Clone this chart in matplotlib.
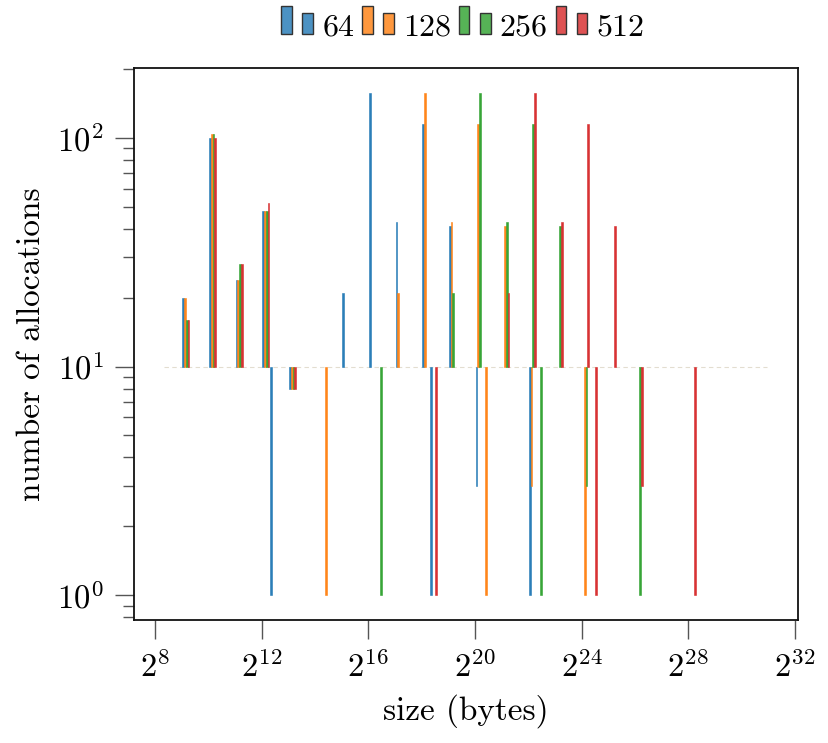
import matplotlib
matplotlib.use("Agg")
import matplotlib.pyplot as plt
from matplotlib.patches import Rectangle
from matplotlib.legend_handler import HandlerBase
from matplotlib.ticker import NullLocator

plt.rcParams["font.family"] = ["cmr10", "DejaVu Serif"]
plt.rcParams["mathtext.fontset"] = "cm"
plt.rcParams["axes.formatter.use_mathtext"] = True

# ---------------- data ----------------
series_labels = ["64", "128", "256", "512"]
series_colors = ["#1f77b4", "#ff7f0e", "#2ca02c", "#d62728"]

sizes_64 = [512, 1024, 2048, 4096, 5000, 8192, 32768, 65536, 131072,
            262144, 320000, 524288, 1048576, 4194304]
counts_64 = [20, 100, 24, 48, 1, 8, 21, 157, 43, 115, 1, 41, 3, 1]

sizes_128 = [512, 1024, 2048, 4096, 8192, 20000, 131072, 262144, 524288,
             1048576, 1280000, 2097152, 4194304, 16777216]
counts_128 = [20, 104, 24, 48, 8, 1, 21, 157, 43, 115, 1, 41, 3, 1]

sizes_256 = [512, 1024, 2048, 4096, 8192, 80000, 524288, 1048576, 2097152,
             4194304, 5120000, 8388608, 16777216, 67108864]
counts_256 = [16, 104, 28, 48, 8, 1, 21, 157, 43, 115, 1, 41, 3, 1]

sizes_512 = [512, 1024, 2048, 4096, 8192, 320000, 2097152, 4194304, 8388608,
             16777216, 20480000, 33554432, 67108864, 268435456]
counts_512 = [16, 100, 28, 52, 8, 1, 21, 157, 43, 115, 1, 41, 3, 1]

all_sizes = [sizes_64, sizes_128, sizes_256, sizes_512]
all_counts = [counts_64, counts_128, counts_256, counts_512]

baseline = 10
x_ticks = [2 ** k for k in range(8, 33, 4)]

# ---------------- figure ----------------
fig = plt.figure(figsize=(8.29, 7.43), dpi=100)
ax = fig.add_axes([134 / 829, 1 - 620 / 743, (798 - 134) / 829, (620 - 68) / 743])
ax.set_xscale("log", base=2)
ax.set_yscale("log")

step = 0.065  # per-series offset in log2 units
for i, (sz, ct, col) in enumerate(zip(all_sizes, all_counts, series_colors)):
    lefts = [s * 2 ** (0.0275 + step * i) for s in sz]
    widths = [l * (2 ** step - 1) for l in lefts]
    heights = [c - baseline for c in ct]
    ax.bar(lefts, heights, width=widths, bottom=baseline, align="edge",
           color=col, edgecolor=col, linewidth=0.4, alpha=0.95)

ax.hlines(baseline, 2 ** 8.34, 2 ** 30.96, colors="#e3ddd0", linestyles=(0, (4, 3)),
          linewidth=0.8, zorder=0)

ax.set_xlim(2 ** 7.21, 2 ** 32.12)
ax.set_ylim(10 ** -0.109, 10 ** 2.306)
ax.set_xticks(x_ticks)
ax.xaxis.set_minor_locator(NullLocator())

ax.tick_params(axis="both", which="major", length=14, width=1.0, color="#555555",
               labelsize=23.5, pad=8)
ax.tick_params(axis="y", which="minor", length=8, width=1.0, color="#555555")
for sp in ax.spines.values():
    sp.set_linewidth(1.3)
    sp.set_color("#111111")

ax.set_xlabel("size (bytes)", fontsize=24, labelpad=8)
ax.set_ylabel("number of allocations", fontsize=24, labelpad=8)


class TwoBarHandler(HandlerBase):
    def create_artists(self, legend, orig_handle, xdescent, ydescent,
                       width, height, fontsize, trans):
        fc = orig_handle.get_facecolor()
        w = width * 0.33
        tall = Rectangle((-xdescent, -ydescent), w, height * 1.35,
                         facecolor=fc, edgecolor="#333333", linewidth=1.0,
                         transform=trans)
        short = Rectangle((-xdescent + width * 0.66, -ydescent), w, height,
                          facecolor=fc, edgecolor="#333333", linewidth=1.0,
                          transform=trans)
        return [tall, short]


handles = [Rectangle((0, 0), 1, 1, facecolor=c, alpha=0.8) for c in series_colors]
fig.legend(handles, series_labels, handler_map={Rectangle: TwoBarHandler()},
           loc="upper center", bbox_to_anchor=(463 / 829, 1.0 + 9 / 743), ncol=4,
           frameon=False, fontsize=23, handlelength=1.0, handleheight=0.64,
           handletextpad=0.28, columnspacing=0.25, borderaxespad=0.3)

fig.savefig("out.png", dpi=100)
